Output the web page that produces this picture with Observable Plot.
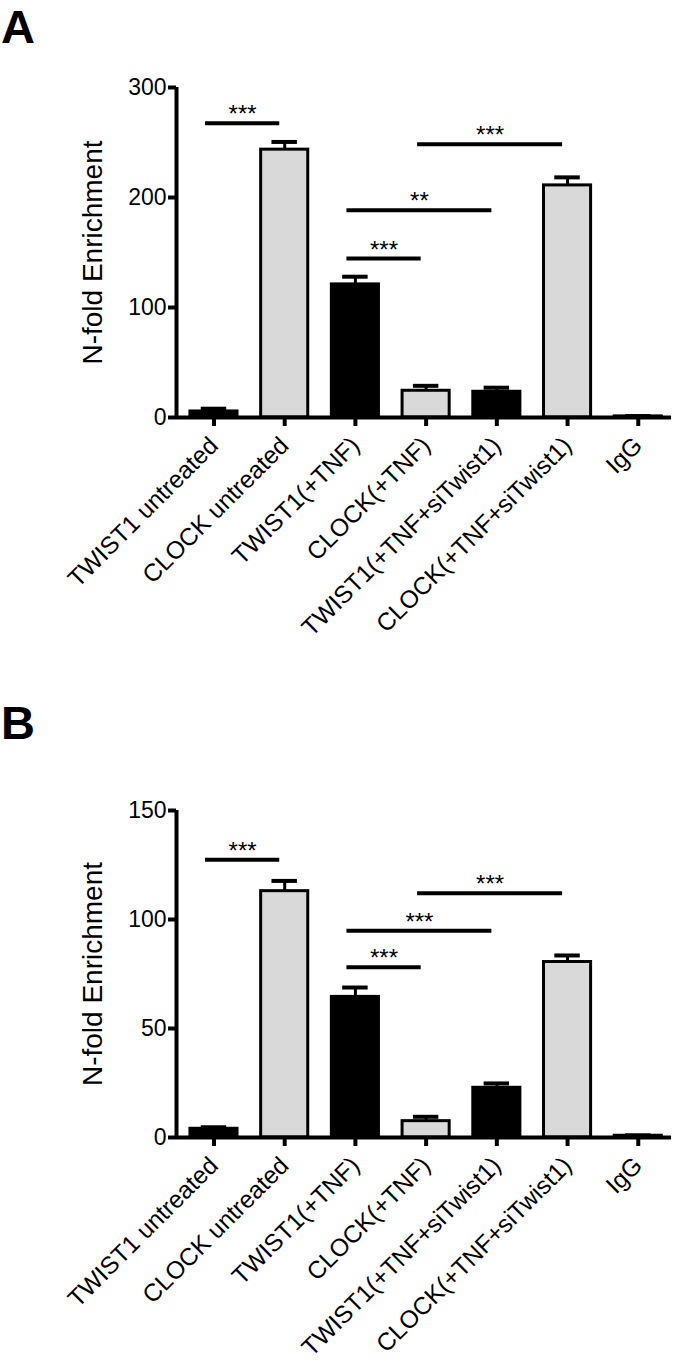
<!DOCTYPE html>
<html>
<head>
<meta charset="utf-8">
<script src="https://cdn.jsdelivr.net/npm/d3@7"></script>
<script src="https://cdn.jsdelivr.net/npm/@observablehq/plot@0.6"></script>
<style>
  html, body { margin: 0; padding: 0; background: #fff; }
  #page { position: relative; width: 674px; height: 1363px; overflow: hidden; font-family: "Liberation Sans", Arial, sans-serif; }
  .letter { position: absolute; left: 1px; font-size: 47px; font-weight: bold; line-height: 40px; height: 40px; color: #000; }
  .panel { position: absolute; left: 0; }
</style>
</head>
<body>
<div id="page">
  <div class="panel" id="panelA" style="top:0px"></div>
  <div class="panel" id="panelB" style="top:680px"></div>
  <div class="letter" id="letterA" style="top:7px">A</div>
  <div class="letter" id="letterB" style="top:703px">B</div>
</div>
<script>
// ---- data ----
const categories = ["TWIST1 untreated", "CLOCK untreated", "TWIST1(+TNF)", "CLOCK(+TNF)", "TWIST1(+TNF+siTwist1)", "CLOCK(+TNF+siTwist1)", "IgG"];
const yLabel = "N-fold Enrichment";

const valuesA = [5.5, 243.5, 121, 24.3, 23.4, 211, 1];
const errorsA = [2.5, 7, 7, 4.5, 3.7, 7.3, 0.3];
const yTicksA = [0, 100, 200, 300];
const sigFromA = [0, 3, 2, 2];
const sigToA = [1, 5, 4, 3];
const sigYA = [267.5, 248.4, 188.3, 144.5];
const sigLabelA = ["***", "***", "**", "***"];

const valuesB = [4, 113, 64.5, 7.5, 22.8, 80.5, 0.8];
const errorsB = [0.7, 4.7, 4.3, 2, 2, 3, 0.2];
const yTicksB = [0, 50, 100, 150];
const sigFromB = [0, 3, 2, 2];
const sigToB = [1, 5, 4, 3];
const sigYB = [127.4, 112, 94.8, 78.1];
const sigLabelB = ["***", "***", "***", "***"];

// ---- drawing ----
const halfBar = 0.333;   // half bar width in category units
const halfCap = 0.18;    // half error-cap width
const xDomain = [-0.53, 6.47];

function group(name) {
  return name.startsWith("CLOCK") ? "CLOCK" : name.startsWith("TWIST1") ? "TWIST1" : "IgG";
}

function panel({values, errors, yTicks, sigFrom, sigTo, sigY, sigLabel, height, marginTop, marginBottom}) {
  const rows = categories.map((c, i) => ({i, c, g: group(c), v: values[i], e: errors[i]}));
  const sig = sigFrom.map((f, k) => ({x1: f - 0.12, x2: sigTo[k] - 0.07, y: sigY[k], label: sigLabel[k]}));
  const yMax = yTicks[yTicks.length - 1];
  return Plot.plot({
    width: 674,
    height,
    marginLeft: 176,
    marginRight: 3,
    marginTop,
    marginBottom,
    style: {color: "#000", background: "transparent", fontFamily: "\"Liberation Sans\", Arial, sans-serif", overflow: "visible"},
    x: {type: "linear", domain: xDomain, axis: null},
    y: {domain: [0, yMax], axis: null},
    color: {domain: ["TWIST1", "CLOCK", "IgG"], range: ["#000000", "#d9d9d9", "#000000"]},
    marks: [
      Plot.rectY(rows, {x1: d => d.i - halfBar, x2: d => d.i + halfBar, y1: 0, y2: "v", fill: "g", stroke: "#000", strokeWidth: 3}),
      Plot.ruleX(rows, {x: "i", y1: "v", y2: d => d.v + d.e, stroke: "#000", strokeWidth: 3}),
      Plot.ruleY(rows, {y: d => d.v + d.e, x1: d => d.i - halfCap, x2: d => d.i + halfCap, stroke: "#000", strokeWidth: 4}),
      Plot.ruleY(sig, {y: "y", x1: "x1", x2: "x2", stroke: "#000", strokeWidth: 4}),
      Plot.text(sig, {x: d => (d.x1 + d.x2) / 2, y: "y", text: "label", fontSize: 24, lineAnchor: "bottom", dy: -1, fill: "#000"}),
      Plot.ruleY([0], {stroke: "#000", strokeWidth: 4}),
      Plot.ruleX([xDomain[0]], {y1: 0, y2: yMax, stroke: "#000", strokeWidth: 4}),
      Plot.axisY({ticks: yTicks, tickSize: 8, tickPadding: 2, fontSize: 23, strokeWidth: 4, label: null}),
      Plot.axisX({ticks: d3.range(categories.length), tickFormat: i => categories[i], tickRotate: -45, tickSize: 9, tickPadding: 15, fontSize: 24.5, strokeWidth: 4, label: null}),
      Plot.text([yLabel], {frameAnchor: "left", textAnchor: "middle", rotate: -90, dx: -83, fontSize: 28, fill: "#000"})
    ]
  });
}

document.getElementById("panelA").append(panel({
  values: valuesA, errors: errorsA, yTicks: yTicksA,
  sigFrom: sigFromA, sigTo: sigToA, sigY: sigYA, sigLabel: sigLabelA,
  height: 680, marginTop: 87, marginBottom: 263
}));
document.getElementById("panelB").append(panel({
  values: valuesB, errors: errorsB, yTicks: yTicksB,
  sigFrom: sigFromB, sigTo: sigToB, sigY: sigYB, sigLabel: sigLabelB,
  height: 683, marginTop: 130, marginBottom: 226
}));
</script>
</body>
</html>
